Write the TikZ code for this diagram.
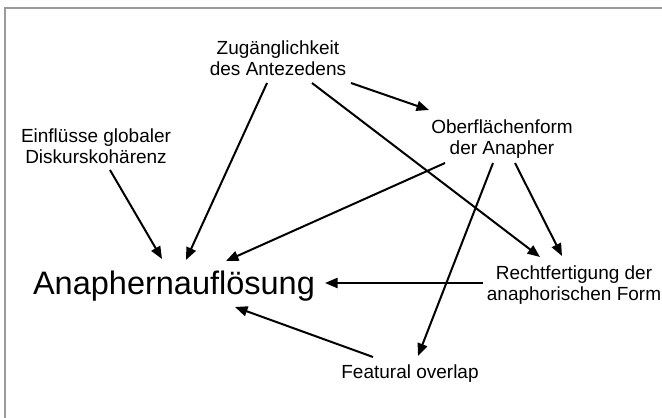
\documentclass[tikz,border=0pt]{standalone}
\usepackage{fontspec}
\setmainfont{Liberation Sans}
\usetikzlibrary{arrows.meta}

\newcommand{\twolines}[2]{\begin{tabular}[t]{@{}c@{}}#1\\#2\end{tabular}}

\begin{document}
\begin{tikzpicture}[x=1pt,y=-1pt,
  label/.style={inner sep=0pt,anchor=base,font=\fontsize{19}{21}\selectfont},
  biglabel/.style={inner sep=0pt,anchor=base,font=\fontsize{32.5}{36}\selectfont},
  arr/.style={line width=2pt,-{Triangle[length=12.5pt,width=10pt]}},
  frame/.style={line width=1.2pt,draw={rgb,255:red,155;green,155;blue,155}}]
  \useasboundingbox (0,0) rectangle (662,418);
  \fill[white] (0,0) rectangle (662,418);
  % frame along the left and top edges
  \draw[frame] (5,418) -- (5,8) -- (662,8);

  % factors
  \node[label]    (zug)   at (278,54)  {\twolines{Zugänglichkeit}{des Antezedens}};
  \node[label]    (einf)  at (96,142)  {\twolines{Einflüsse globaler}{Diskurskohärenz}};
  \node[label]    (ober)  at (502,133) {\twolines{Oberflächenform}{der Anapher}};
  \node[label]    (recht) at (574,279) {\twolines{Rechtfertigung der}{anaphorischen Form}};
  \node[label]    (feat)  at (410,378) {Featural overlap};
  \node[biglabel] (ana)   at (174,294) {Anaphernauflösung};

  % influences
  \draw[arr] ([shift={(14,28)}]einf.base)  -- ([shift={(-12,-35)}]ana.base);
  \draw[arr] ([shift={(-11,29)}]zug.base)  -- ([shift={(12,-34)}]ana.base);
  \draw[arr] ([shift={(34,29)}]zug.base)   -- ([shift={(-34,-22)}]recht.base);
  \draw[arr] ([shift={(73,29)}]zug.base)   -- ([shift={(-73,-23)}]ober.base);
  \draw[arr] ([shift={(-57,30)}]ober.base) -- ([shift={(52,-33)}]ana.base);
  \draw[arr] ([shift={(-9,30)}]ober.base)  -- ([shift={(8,-22)}]feat.base);
  \draw[arr] ([shift={(13,30)}]ober.base)  -- ([shift={(-12,-23)}]recht.base);
  \draw[arr] ([shift={(-91,4)}]recht.base) -- ([shift={(151,-11)}]ana.base);
  \draw[arr] ([shift={(-37,-21)}]feat.base) -- ([shift={(61,13)}]ana.base);
\end{tikzpicture}
\end{document}
